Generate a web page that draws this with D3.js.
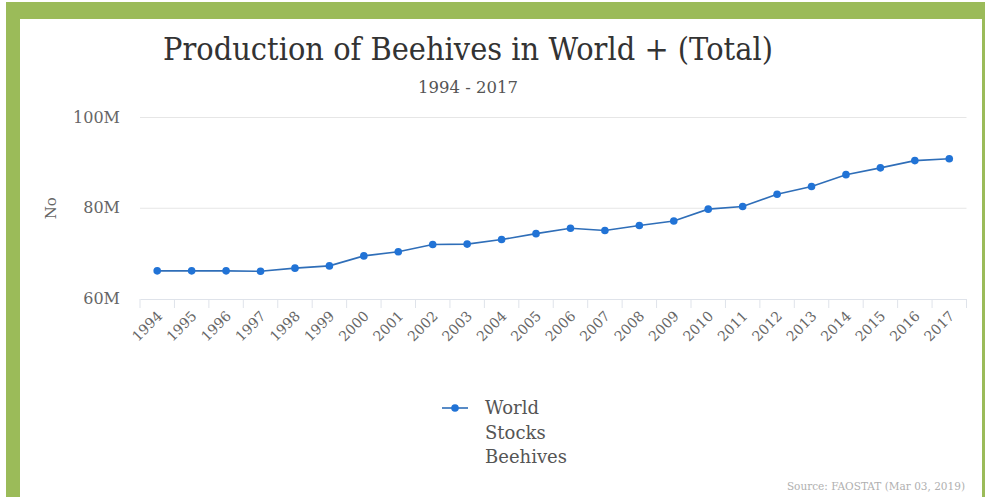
<!DOCTYPE html>
<html>
<head>
<meta charset="utf-8">
<script src="https://cdn.jsdelivr.net/npm/d3@7"></script>
<style>
  html, body { margin: 0; padding: 0; background: #ffffff; }
  svg { display: block; }
  text { font-family: "DejaVu Serif", "Liberation Serif", serif; }
</style>
</head>
<body>
<script>
// Beehive stocks, world total, 1994–2017 (millions of hives)
const years = ["1994","1995","1996","1997","1998","1999","2000","2001","2002","2003","2004","2005",
               "2006","2007","2008","2009","2010","2011","2012","2013","2014","2015","2016","2017"];
const stocks = [66.2, 66.2, 66.2, 66.1, 66.8, 67.3, 69.5, 70.4, 72.0, 72.1, 73.1, 74.4,
                75.6, 75.1, 76.2, 77.2, 79.8, 80.4, 83.1, 84.8, 87.4, 88.9, 90.5, 90.9];
const yTicks = [60, 80, 100];
const yTickLabels = ["60M", "80M", "100M"];
const seriesName = ["World", "Stocks", "Beehives"];

const W = 985, H = 497;
const svg = d3.select("body").append("svg").attr("width", W).attr("height", H);

// green frame
const frame = "#9bbb59";
svg.append("rect").attr("x", 6).attr("y", 2).attr("width", W - 6).attr("height", 17).attr("fill", frame);
svg.append("rect").attr("x", 6).attr("y", 2).attr("width", 14).attr("height", H - 2).attr("fill", frame);
svg.append("rect").attr("x", 982).attr("y", 2).attr("width", 3).attr("height", H - 2).attr("fill", frame);

// scales
const x = d3.scaleBand().domain(years).range([140, 966.5]);
const y = d3.scaleLinear().domain([60, 100]).range([299, 117.5]);

// title and subtitle
svg.append("text").attr("x", 163).attr("y", 60)
  .attr("font-family", "'Liberation Serif', serif")
  .attr("font-size", 31).attr("fill", "#333")
  .attr("textLength", 610).attr("lengthAdjust", "spacingAndGlyphs")
  .text("Production of Beehives in World + (Total)");
svg.append("text").attr("x", 418).attr("y", 93)
  .attr("font-family", "'Liberation Serif', serif")
  .attr("font-size", 16.5).attr("fill", "#555")
  .attr("textLength", 100).attr("lengthAdjust", "spacingAndGlyphs")
  .text("1994 - 2017");

// horizontal grid
svg.append("g").selectAll("line").data(yTicks.slice(1)).join("line")
  .attr("x1", 140).attr("x2", 966.5)
  .attr("y1", d => y(d)).attr("y2", d => y(d))
  .attr("stroke", "#e6e6e6").attr("stroke-width", 1);

// y labels
svg.append("g").selectAll("text").data(yTicks).join("text")
  .attr("x", 120).attr("y", d => y(d) + 5).attr("text-anchor", "end")
  .attr("font-size", 16).attr("fill", "#666")
  .text((d, i) => yTickLabels[i]);

// y axis title
svg.append("text").attr("transform", `translate(56,${y(80)}) rotate(-90)`)
  .attr("text-anchor", "middle").attr("font-size", 15).attr("fill", "#666").text("No");

// x axis
const xAxis = d3.axisBottom(x).tickSize(0).tickFormat("");
const gx = svg.append("g").attr("transform", `translate(0,${y(60)})`).call(xAxis);
gx.select(".domain").attr("stroke", "#dfe3ea");
// tick marks at category boundaries
const bounds = years.map(d => x(d)).concat([x(years[years.length - 1]) + x.bandwidth()]);
gx.selectAll("line.tk").data(bounds).join("line").attr("class", "tk")
  .attr("x1", d => d).attr("x2", d => d).attr("y1", 0).attr("y2", 9)
  .attr("stroke", "#dfe3ea");
// rotated year labels
svg.append("g").selectAll("text").data(years).join("text")
  .attr("transform", d => `translate(${x(d) + x.bandwidth() / 2 + 6},${y(60) + 18}) rotate(-45)`)
  .attr("text-anchor", "end").attr("font-size", 14).attr("fill", "#666")
  .text(d => d);

// series line and markers
const blue = "#2173d6";
const line = d3.line().x((d, i) => x(years[i]) + x.bandwidth() / 2).y(d => y(d));
svg.append("path").datum(stocks).attr("d", line)
  .attr("fill", "none").attr("stroke", "#2f6eb8").attr("stroke-width", 1.6);
svg.append("g").selectAll("circle").data(stocks).join("circle")
  .attr("cx", (d, i) => x(years[i]) + x.bandwidth() / 2).attr("cy", d => y(d))
  .attr("r", 3.8).attr("fill", blue);

// legend
const lg = svg.append("g").attr("transform", "translate(442,408)");
lg.append("line").attr("x1", 0).attr("x2", 26).attr("y1", 0).attr("y2", 0)
  .attr("stroke", "#2f6eb8").attr("stroke-width", 1.6);
lg.append("circle").attr("cx", 13).attr("cy", 0).attr("r", 3.8).attr("fill", blue);
lg.selectAll("text.name").data(seriesName).join("text").attr("class", "name")
  .attr("x", 43).attr("y", (d, i) => 6 + i * 24.5)
  .attr("font-size", 18).attr("fill", "#555").text(d => d);

// source
svg.append("text").attr("x", 965).attr("y", 490).attr("text-anchor", "end")
  .attr("font-size", 10.5).attr("fill", "#b0b0b0").text("Source: FAOSTAT (Mar 03, 2019)");
</script>
</body>
</html>
